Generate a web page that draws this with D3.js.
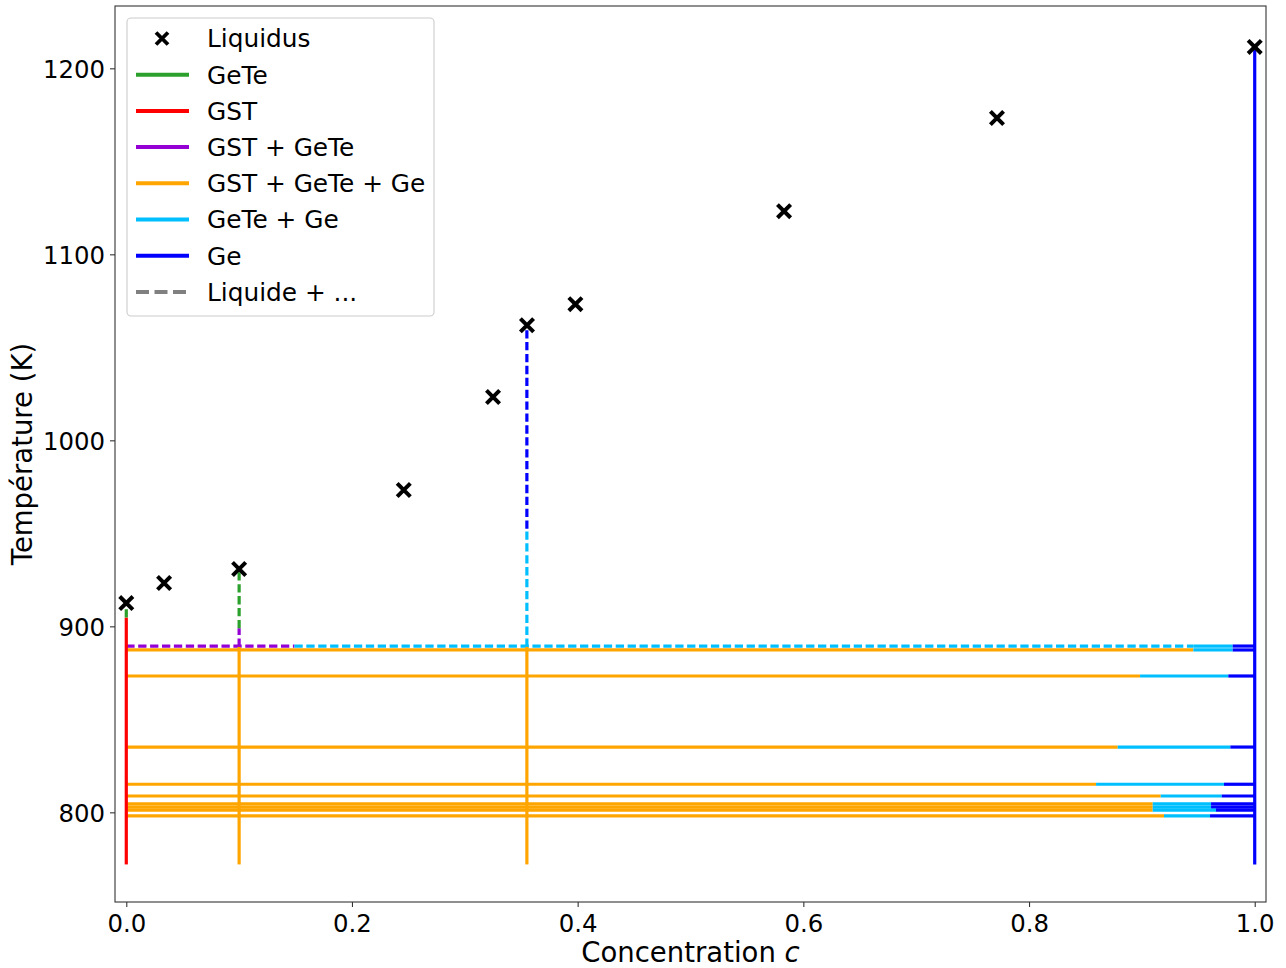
<!DOCTYPE html>
<html>
<head>
<meta charset="utf-8">
<script src="https://cdn.jsdelivr.net/npm/d3@7"></script>
<style>
  html, body { margin: 0; padding: 0; background: #fff; }
  svg { display: block; font-family: "DejaVu Sans", sans-serif; }
</style>
</head>
<body>
<svg id="chart" width="1286" height="968"></svg>
<script>
// ---------- DATA ----------
const xTicks = [0.0, 0.2, 0.4, 0.6, 0.8, 1.0];
const yTicks = [800, 900, 1000, 1100, 1200];
const xDomain = [-0.01, 1.01];
const yDomain = [751.8, 1233.5];

// Liquidus points
const liquidusC = [0.0, 0.0335, 0.1, 0.2459, 0.325, 0.3551, 0.398, 0.5829, 0.7716, 1.0];
const liquidusT = [912.5, 923.3, 930.8, 973.3, 1023.3, 1061.9, 1073.2, 1123.2, 1173.3, 1211.5];

// Solid isotherms: orange from 0 to orangeEnd, cyan to cyanEnd, blue to 1
const isoT         = [887.3, 873.3, 835.1, 815.1, 808.8, 804.5, 802.8, 801.2, 798.1];
const isoOrangeEnd = [0.9456, 0.8984, 0.8786, 0.8594, 0.9167, 0.9096, 0.9096, 0.9096, 0.9196];
const isoCyanEnd   = [0.9805, 0.9766, 0.9784, 0.9728, 0.9708, 0.9613, 0.9613, 0.9657, 0.9604];

// Eutectic line just above (liquid + ...)
const eutT = 889.4;
const eutSegC0     = [0.0,   0.149,  0.9456, 0.9805];
const eutSegC1     = [0.149, 0.9456, 0.9805, 1.0];
const eutSegPhase  = ["GST + GeTe", "GeTe + Ge", "GeTe + Ge", "Ge"];
const eutSegLiquid = [true, true, false, false];

// Vertical segments
const vertC      = [0, 0, 0.1, 0.1, 0.1, 0.355, 0.355, 0.355, 1.0];
const vertT0     = [772, 904.7, 772, 889, 899, 772, 889, 952.4, 772];
const vertT1     = [904.7, 912.5, 889, 899, 930.8, 889, 952.4, 1061.9, 1211.5];
const vertPhase  = ["GST", "GeTe", "GST + GeTe + Ge", "GST + GeTe", "GeTe",
                    "GST + GeTe + Ge", "GeTe + Ge", "Ge", "Ge"];
const vertLiquid = [false, true, false, true, true, false, true, true, false];

const legendLabels = ["Liquidus", "GeTe", "GST", "GST + GeTe", "GST + GeTe + Ge", "GeTe + Ge", "Ge", "Liquide + ..."];

// ---------- STYLE ----------
const phaseColor = {
  "GeTe": "#2ca02c",
  "GST": "#ff0000",
  "GST + GeTe": "#9400d3",
  "GST + GeTe + Ge": "#ffa500",
  "GeTe + Ge": "#00bfff",
  "Ge": "#0000ff",
  "Liquide + ...": "#808080"
};
const LW = 3.2;
const DASH = "8.3,3.6";

const svg = d3.select("#chart");
const plot = { left: 115, top: 6, right: 1266, bottom: 902 };

const x = d3.scaleLinear().domain(xDomain).range([plot.left, plot.right]);
const y = d3.scaleLinear().domain(yDomain).range([plot.bottom, plot.top]);

svg.append("clipPath").attr("id", "clip")
  .append("rect").attr("x", plot.left).attr("y", plot.top)
  .attr("width", plot.right - plot.left).attr("height", plot.bottom - plot.top);

const g = svg.append("g").attr("clip-path", "url(#clip)");

const segs = [];
isoT.forEach((t, i) => {
  segs.push({c0: 0, c1: isoOrangeEnd[i], t0: t, t1: t, phase: "GST + GeTe + Ge", liquid: false});
  segs.push({c0: isoOrangeEnd[i], c1: isoCyanEnd[i], t0: t, t1: t, phase: "GeTe + Ge", liquid: false});
  segs.push({c0: isoCyanEnd[i], c1: 1.0, t0: t, t1: t, phase: "Ge", liquid: false});
});
eutSegC0.forEach((c0, i) => {
  segs.push({c0: c0, c1: eutSegC1[i], t0: eutT, t1: eutT, phase: eutSegPhase[i], liquid: eutSegLiquid[i]});
});
vertC.forEach((c, i) => {
  segs.push({c0: c, c1: c, t0: vertT0[i], t1: vertT1[i], phase: vertPhase[i], liquid: vertLiquid[i]});
});

g.selectAll("line.seg").data(segs).join("line")
  .attr("class", "seg")
  .attr("x1", d => x(d.c0)).attr("x2", d => x(d.c1))
  .attr("y1", d => y(d.t0)).attr("y2", d => y(d.t1))
  .attr("stroke", d => phaseColor[d.phase])
  .attr("stroke-width", LW)
  .attr("stroke-dasharray", d => d.liquid ? DASH : null);

function xPath(cx, cy, h) {
  return `M${cx - h},${cy - h}L${cx + h},${cy + h}M${cx - h},${cy + h}L${cx + h},${cy - h}`;
}
const liq = liquidusC.map((c, i) => ({c: c, t: liquidusT[i]}));
svg.append("g").selectAll("path").data(liq).join("path")
  .attr("d", d => xPath(x(d.c), y(d.t), 6.6))
  .attr("stroke", "#000").attr("stroke-width", 4).attr("fill", "none");

// Axes
const fs = 24.4;
const xAxis = d3.axisBottom(x).tickValues(xTicks).tickFormat(d3.format(".1f")).tickSize(5).tickSizeOuter(0);
const yAxis = d3.axisLeft(y).tickValues(yTicks).tickFormat(d3.format("d")).tickSize(5).tickSizeOuter(0);

const gx = svg.append("g").attr("transform", `translate(0,${plot.bottom})`).call(xAxis);
gx.select(".domain").remove();
gx.selectAll(".tick line").attr("stroke", "#333").attr("stroke-width", 1.1);
gx.selectAll(".tick text").attr("font-size", fs).attr("font-family", "DejaVu Sans")
  .attr("fill", "#000").attr("y", 30).attr("dy", null);

const gy = svg.append("g").attr("transform", `translate(${plot.left},0)`).call(yAxis);
gy.select(".domain").remove();
gy.selectAll(".tick line").attr("stroke", "#333").attr("stroke-width", 1.1);
gy.selectAll(".tick text").attr("font-size", fs).attr("font-family", "DejaVu Sans")
  .attr("fill", "#000").attr("x", -10).attr("dy", "0.36em");

svg.append("rect")
  .attr("x", plot.left).attr("y", plot.top)
  .attr("width", plot.right - plot.left).attr("height", plot.bottom - plot.top)
  .attr("fill", "none").attr("stroke", "#333").attr("stroke-width", 1.1);

// Axis labels
const xl = svg.append("text")
  .attr("x", (plot.left + plot.right) / 2).attr("y", 962)
  .attr("text-anchor", "middle").attr("font-size", 27.5).attr("fill", "#000");
xl.append("tspan").text("Concentration ");
xl.append("tspan").attr("font-style", "italic").text("c");

svg.append("text")
  .attr("transform", `translate(32,${(plot.top + plot.bottom) / 2}) rotate(-90)`)
  .attr("text-anchor", "middle").attr("font-size", 27.5).attr("fill", "#000")
  .text("Température (K)");

// Legend
const lg = svg.append("g");
lg.append("rect").attr("x", 127).attr("y", 18).attr("width", 307).attr("height", 298)
  .attr("rx", 4).attr("fill", "#fff").attr("fill-opacity", 0.8)
  .attr("stroke", "#cccccc").attr("stroke-width", 1.1);

const legendKeys = ["Liquidus", "GeTe", "GST", "GST + GeTe", "GST + GeTe + Ge", "GeTe + Ge", "Ge", "Liquide + ..."];
legendLabels.forEach((lab, i) => {
  const cy = 38.5 + i * 36.2;
  const key = legendKeys[i];
  if (key === "Liquidus") {
    lg.append("path").attr("d", xPath(162, cy, 6))
      .attr("stroke", "#000").attr("stroke-width", 3.8).attr("fill", "none");
  } else {
    lg.append("line").attr("x1", 136).attr("x2", 189).attr("y1", cy).attr("y2", cy)
      .attr("stroke", phaseColor[key]).attr("stroke-width", 4)
      .attr("stroke-dasharray", key === "Liquide + ..." ? "13,5.5" : null);
  }
  lg.append("text").attr("x", 207).attr("y", cy + 8.9)
    .attr("font-size", 24.8).attr("fill", "#000").text(lab);
});
</script>
</body>
</html>
